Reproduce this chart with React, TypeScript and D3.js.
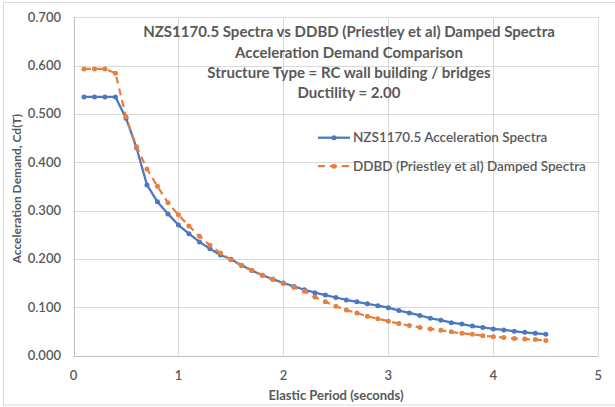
import React from "react";
import * as d3 from "d3";

const periods = [0.1,0.2,0.3,0.4,0.5,0.6,0.7,0.8,0.9,1.0,1.1,1.2,1.3,1.4,1.5,1.6,1.7,1.8,1.9,2.0,2.1,2.2,2.3,2.4,2.5,2.6,2.7,2.8,2.9,3.0,3.1,3.2,3.3,3.4,3.5,3.6,3.7,3.8,3.9,4.0,4.1,4.2,4.3,4.4,4.5];

const nzsValues = [0.535,0.535,0.535,0.535,0.491,0.430,0.353,0.318,0.293,0.270,0.252,0.235,0.221,0.208,0.199,0.187,0.176,0.166,0.158,0.150,0.143,0.136,0.130,0.125,0.120,0.115,0.111,0.107,0.103,0.099,0.093,0.088,0.083,0.077,0.073,0.068,0.065,0.061,0.058,0.055,0.053,0.050,0.048,0.046,0.044];

const ddbdValues = [0.593,0.593,0.593,0.584,0.494,0.432,0.386,0.350,0.316,0.291,0.268,0.247,0.228,0.212,0.198,0.186,0.176,0.166,0.157,0.149,0.141,0.133,0.121,0.111,0.102,0.094,0.088,0.081,0.076,0.071,0.066,0.062,0.058,0.055,0.052,0.049,0.046,0.044,0.041,0.039,0.037,0.035,0.034,0.033,0.031];

const xTicks = [0, 1, 2, 3, 4, 5];
const yTicks = [0, 0.1, 0.2, 0.3, 0.4, 0.5, 0.6, 0.7];

const titleLines = [
  "NZS1170.5 Spectra vs DDBD (Priestley et al) Damped Spectra",
  "Acceleration Demand Comparison",
  "Structure Type = RC wall building / bridges",
  "Ductility = 2.00",
];
const seriesNames = ["NZS1170.5 Acceleration Spectra", "DDBD (Priestley et al) Damped Spectra"];

const W = 615, H = 407;
const FONT = "Lato, 'Open Sans', sans-serif";
const TXT = "#595959";
const BLUE = "#4a78c2";
const ORANGE = "#e97f3f";

export default function App() {
  const x = d3.scaleLinear().domain([0, 5]).range([73.5, 598.3]);
  const y = d3.scaleLinear().domain([0, 0.7]).range([355.5, 17.2]);
  const line = d3.line<number>().x((_, i) => x(periods[i])).y((v) => y(v));

  const series = [
    { vals: nzsValues, color: BLUE, dash: undefined as string | undefined },
    { vals: ddbdValues, color: ORANGE, dash: "7,5" },
  ];

  return (
    <svg width={W} height={H} style={{ position: "absolute", left: 0, top: 0 }}>
      <rect x={0} y={0} width={W} height={H} fill="#fff" />
      <rect x={3.5} y={2.5} width={W + 10} height={402.5} fill="none" stroke="#d9d9d9" strokeWidth={1} />
      {/* gridlines */}
      {yTicks.map((t) => (
        <line key={"gy" + t} x1={x(0)} x2={x(5)} y1={Math.round(y(t)) + 0.5} y2={Math.round(y(t)) + 0.5} stroke="#d9d9d9" strokeWidth={1} />
      ))}
      {xTicks.map((t) => (
        <line key={"gx" + t} x1={Math.round(x(t)) + 0.5} x2={Math.round(x(t)) + 0.5} y1={y(0)} y2={y(0.7)} stroke="#d9d9d9" strokeWidth={1} />
      ))}
      {/* axes */}
      <line x1={x(0)} x2={x(5)} y1={Math.round(y(0)) + 0.5} y2={Math.round(y(0)) + 0.5} stroke="#bfbfbf" />
      <line x1={Math.round(x(0)) + 0.5} x2={Math.round(x(0)) + 0.5} y1={y(0)} y2={y(0.7)} stroke="#bfbfbf" />
      {/* tick labels */}
      {yTicks.map((t) => (
        <text key={"ty" + t} x={61} y={y(t)} dy="0.35em" textAnchor="end" fontFamily={FONT} fontSize={13} fontWeight={600} fill={TXT}>
          {d3.format(".3f")(t)}
        </text>
      ))}
      {xTicks.map((t) => (
        <text key={"tx" + t} x={x(t)} y={375} dy="0.35em" textAnchor="middle" fontFamily={FONT} fontSize={13} fontWeight={600} fill={TXT}>
          {t}
        </text>
      ))}
      <text x={336} y={395} dy="0.35em" textAnchor="middle" fontFamily={FONT} fontSize={13} fontWeight={700} fill={TXT}>
        Elastic Period (seconds)
      </text>
      <text transform={`translate(17,${y(0.345)}) rotate(-90)`} dy="0.35em" textAnchor="middle" fontFamily={FONT} fontSize={12} fontWeight={700} fill={TXT}>
        Acceleration Demand, Cd(T)
      </text>
      {/* series */}
      {series.map((s, k) => (
        <g key={"s" + k}>
          <path d={line(s.vals) || ""} fill="none" stroke={s.color} strokeWidth={2.25} strokeDasharray={s.dash} strokeLinejoin="round" />
          {s.vals.map((v, i) => (
            <circle key={i} cx={x(periods[i])} cy={y(v)} r={2.5} fill={s.color} />
          ))}
        </g>
      ))}
      {/* title */}
      {titleLines.map((l, i) => (
        <text key={"t" + i} x={349} y={32 + i * 20.3} dy="0.35em" textAnchor="middle" fontFamily={FONT} fontSize={15} fontWeight={700} fill={TXT}>
          {l}
        </text>
      ))}
      {/* legend */}
      {series.map((s, k) => {
        const ly = 137.7 + k * 28.5;
        return (
          <g key={"l" + k}>
            <line x1={318} x2={350} y1={ly} y2={ly} stroke={s.color} strokeWidth={2.25} strokeDasharray={s.dash ? "7,5" : undefined} />
            <circle cx={334} cy={ly} r={2.5} fill={s.color} />
            <text x={353} y={ly} dy="0.35em" fontFamily={FONT} fontSize={13.5} fontWeight={600} fill={TXT}>
              {seriesNames[k]}
            </text>
          </g>
        );
      })}
    </svg>
  );
}
